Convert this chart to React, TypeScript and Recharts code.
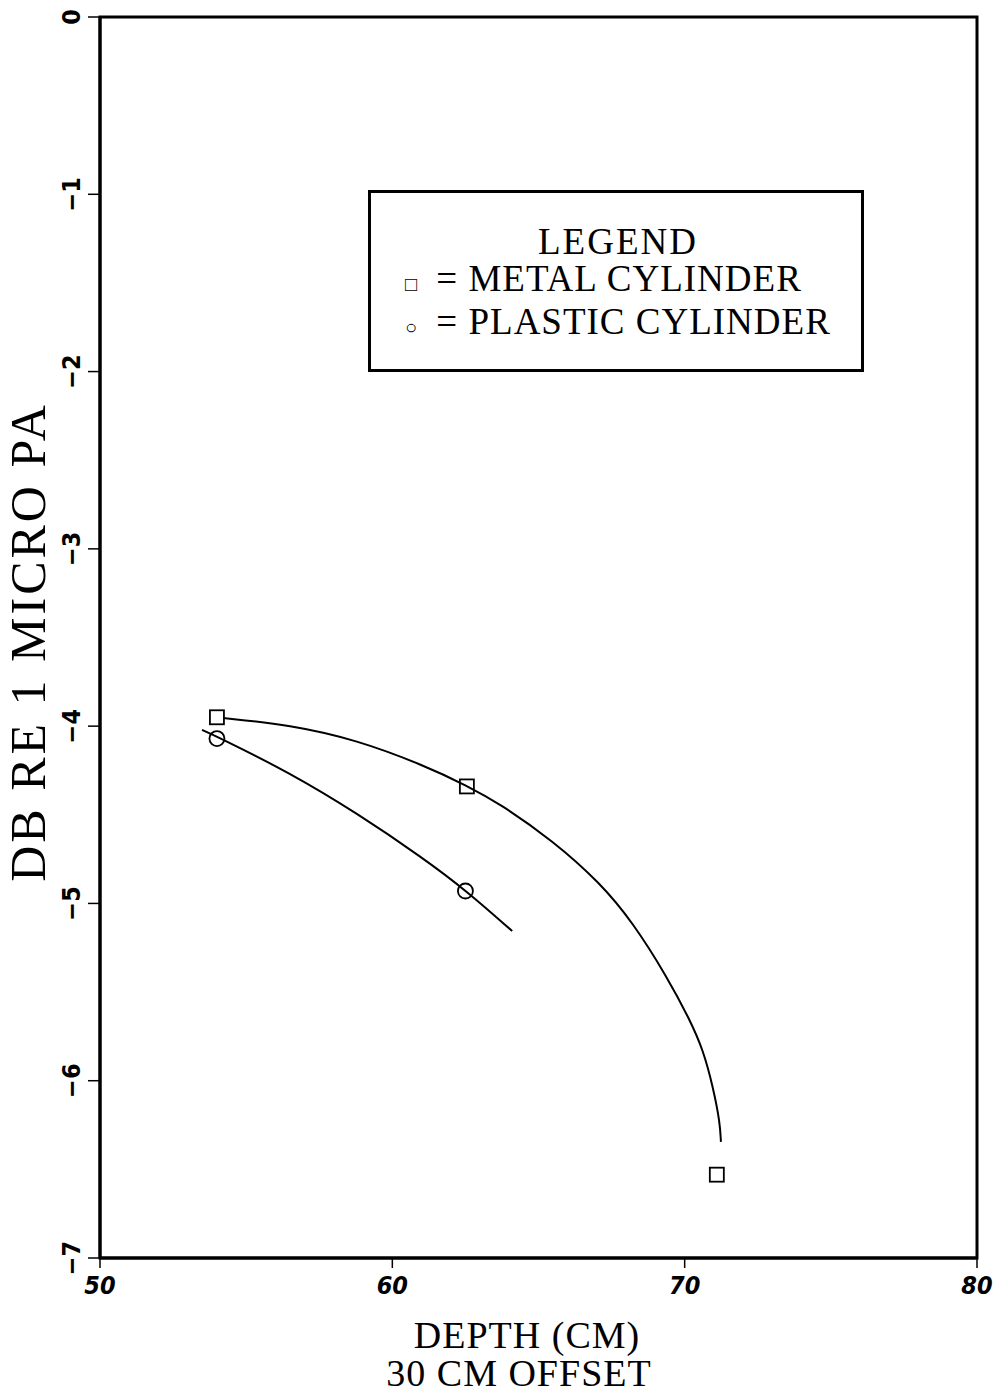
import React from 'react';
import {
  ComposedChart,
  Line,
  Scatter,
  XAxis,
  YAxis,
  ReferenceArea,
  Legend,
  Label
} from 'recharts';

// measured points
const metalX = [54.0, 62.55, 71.1];
const metalY = [-3.95, -4.34, -6.53];
const plasticX = [54.0, 62.5];
const plasticY = [-4.07, -4.93];

// fitted curves
const metalFitX = [54.21, 56.5, 58.79, 61.05, 62.56, 63.68, 65.5, 67.11, 68.24, 69.4, 70.18, 70.63, 70.97, 71.21, 71.24];
const metalFitY = [-3.954, -3.993, -4.078, -4.219, -4.336, -4.438, -4.647, -4.884, -5.11, -5.415, -5.657, -5.826, -6.035, -6.238, -6.345];
const plasticFitX = [53.49, 54.04, 56.5, 58.79, 61.05, 62.56, 64.1];
const plasticFitY = [-4.021, -4.061, -4.264, -4.491, -4.744, -4.932, -5.156];

const xTicks = [50, 60, 70, 80];
const yTicks = [0, -1, -2, -3, -4, -5, -6, -7];

const zip = (xs: number[], ys: number[]) => xs.map((x, i) => ({ x, y: ys[i] }));

const metalPts = zip(metalX, metalY);
const plasticPts = zip(plasticX, plasticY);
const metalFit = zip(metalFitX, metalFitY);
const plasticFit = zip(plasticFitX, plasticFitY);

const SERIF = '"Liberation Serif", "DejaVu Serif", serif';
const SANS = '"DejaVu Sans Condensed", "DejaVu Sans", sans-serif';

const SquareMark = (props: any) => {
  const { cx, cy } = props;
  return <rect x={cx - 7} y={cy - 7} width={14} height={14} fill="none" stroke="#000" strokeWidth={1.8} />;
};

const CircleMark = (props: any) => {
  const { cx, cy } = props;
  return <circle cx={cx} cy={cy} r={7.5} fill="none" stroke="#000" strokeWidth={1.8} />;
};

const YTick = (props: any) => {
  const { x, y, payload } = props;
  const v = payload.value;
  const txt = v < 0 ? `\u2212${Math.abs(v)}` : `${v}`;
  return (
    <text
      x={x}
      y={y}
      transform={`rotate(-90, ${x}, ${y})`}
      textAnchor="middle"
      fontFamily={SANS}
      fontWeight="bold"
      fontSize={25}
      fill="#000"
    >
      {txt}
    </text>
  );
};

const XTick = (props: any) => {
  const { x, y, payload } = props;
  return (
    <text x={x} y={y + 24} textAnchor="middle" fontFamily={SANS} fontWeight="bold" fontStyle="italic" fontSize={25} fill="#000">
      {payload.value}
    </text>
  );
};

const LegendBox = () => (
  <div
    style={{
      width: 496,
      height: 182,
      border: '3px solid #000',
      fontFamily: SERIF,
      fontSize: 37,
      letterSpacing: 1,
      color: '#000',
      boxSizing: 'border-box',
      lineHeight: '37px',
      paddingTop: 30
    }}
  >
    <div style={{ textAlign: 'center', paddingLeft: 4, letterSpacing: 2 }}>LEGEND</div>
    <div style={{ paddingLeft: 34, whiteSpace: 'nowrap' }}>
      <span style={{ fontSize: 20, marginRight: 8 }}>{'\u25A1'}</span> = METAL CYLINDER
    </div>
    <div style={{ paddingLeft: 34, whiteSpace: 'nowrap' }}>
      <span style={{ fontSize: 20, marginRight: 8 }}>{'\u25CB'}</span> = PLASTIC CYLINDER
    </div>
  </div>
);

const XLabel = () => (
  <g fontFamily={SERIF} fontSize={38} fill="#000" letterSpacing={1}>
    <text x={527} y={1348} textAnchor="middle">DEPTH (CM)</text>
    <text x={519} y={1386} textAnchor="middle">30 CM OFFSET</text>
  </g>
);

const YLabel = () => (
  <text
    x={45}
    y={642}
    transform="rotate(-90, 45, 642)"
    textAnchor="middle"
    fontFamily={SERIF}
    fontSize={50}
    letterSpacing={3}
    fill="#000"
  >
    DB RE 1 MICRO PA
  </text>
);

export default function App() {
  return (
    <div style={{ position: 'absolute', left: 0, top: 0, width: 1006, height: 1393, background: '#fff' }}>
      <ComposedChart width={1006} height={1393} margin={{ top: 17, right: 29, bottom: 0, left: 0 }}>
        <XAxis
          dataKey="x"
          type="number"
          domain={[50, 80]}
          ticks={xTicks}
          height={135}
          tick={<XTick />}
          tickSize={10}
          axisLine={{ stroke: '#000', strokeWidth: 3 }}
          tickLine={{ stroke: '#000', strokeWidth: 1.5 }}
          allowDataOverflow
        >
          <Label content={<XLabel />} />
        </XAxis>
        <YAxis
          dataKey="y"
          type="number"
          domain={[-7, 0]}
          ticks={yTicks}
          width={100}
          tick={<YTick />}
          tickSize={12}
          tickMargin={8}
          axisLine={{ stroke: '#000', strokeWidth: 3 }}
          tickLine={{ stroke: '#000', strokeWidth: 1.5 }}
          allowDataOverflow
        >
          <Label content={<YLabel />} />
        </YAxis>
        <ReferenceArea x1={50} x2={80} y1={-7} y2={0} fill="none" stroke="#000" strokeWidth={3} ifOverflow="visible" />
        <Line data={metalFit} dataKey="y" type="basis" stroke="#000" strokeWidth={2} dot={false} isAnimationActive={false} />
        <Line data={plasticFit} dataKey="y" type="basis" stroke="#000" strokeWidth={2} dot={false} isAnimationActive={false} />
        <Scatter data={metalPts} dataKey="y" shape={<SquareMark />} isAnimationActive={false} />
        <Scatter data={plasticPts} dataKey="y" shape={<CircleMark />} isAnimationActive={false} />
        <Legend
          layout="vertical"
          align="center"
          verticalAlign="middle"
          content={<LegendBox />}
          wrapperStyle={{ position: 'absolute', left: 368, top: 190, width: 496, height: 182 }}
        />
      </ComposedChart>
    </div>
  );
}
